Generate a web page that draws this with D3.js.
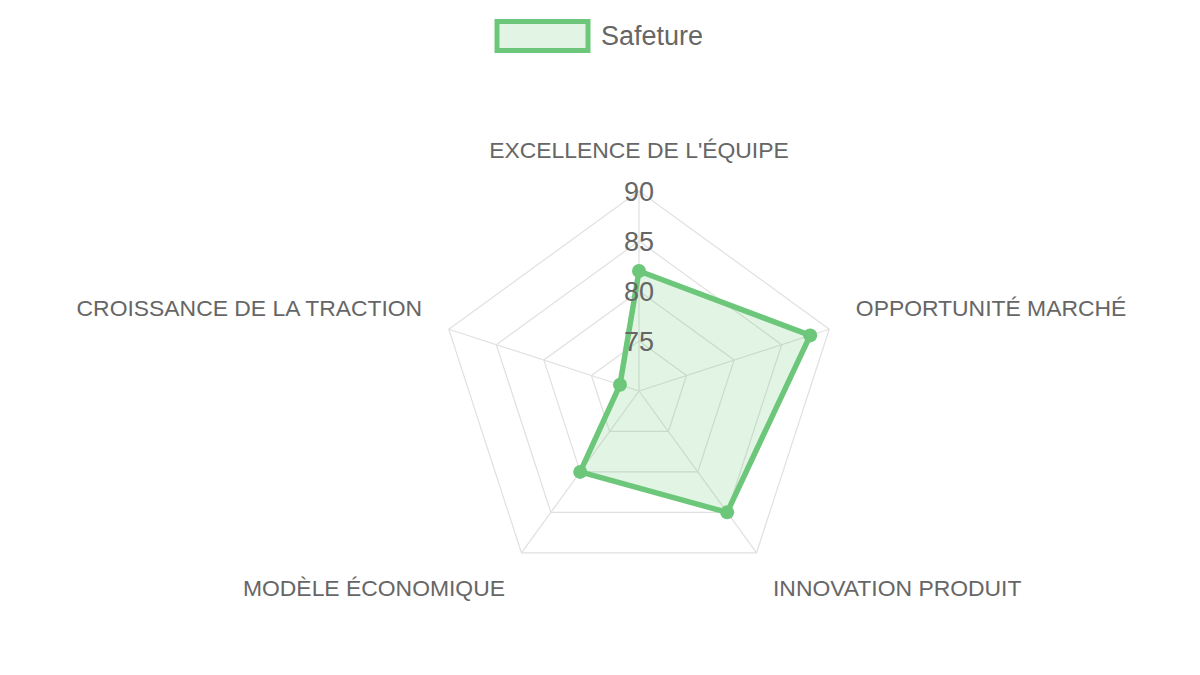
<!DOCTYPE html>
<meta charset="utf-8">
<head>
	<title>Safeture radar</title>
	<script type="text/javascript" src="https://cdn.jsdelivr.net/npm/d3@7/dist/d3.min.js"></script>
	<style>
		body { margin: 0; background: #fff; }
		svg text { font-family: "Liberation Sans", Arial, Helvetica, sans-serif; fill: #666; }
	</style>
</head>

<body>
	<div id="chart"></div>

<script>
	// values
	var axes = ["EXCELLENCE DE L'ÉQUIPE", "OPPORTUNITÉ MARCHÉ", "INNOVATION PRODUIT", "MODÈLE ÉCONOMIQUE", "CROISSANCE DE LA TRACTION"];
	var seriesName = "Safeture";
	var values = [82, 88, 85, 80, 72];
	var ticks = [75, 80, 85, 90];
	var scaleMin = 70, scaleMax = 90;

	var width = 1200, height = 675;
	var cx = 639, cy = 391, R = 200;
	var green = "rgb(108,199,122)";

	var svg = d3.select("#chart").append("svg")
		.attr("width", width)
		.attr("height", height);

	var r = d3.scaleLinear().domain([scaleMin, scaleMax]).range([0, R]);
	var angle = d3.scaleLinear().domain([0, axes.length]).range([0, 2 * Math.PI]);

	function pt(i, rad) {
		var a = angle(i);
		return [cx + rad * Math.sin(a), cy - rad * Math.cos(a)];
	}

	var g = svg.append("g");

	// rings
	g.selectAll(".ring").data(ticks).enter().append("polygon")
		.attr("class", "ring")
		.attr("points", function(t) { return axes.map(function(a, i) { return pt(i, r(t)).join(","); }).join(" "); })
		.attr("fill", "none")
		.attr("stroke", "#e0e0e0")
		.attr("stroke-width", 1.2);

	// spokes
	g.selectAll(".spoke").data(axes).enter().append("line")
		.attr("class", "spoke")
		.attr("x1", cx).attr("y1", cy)
		.attr("x2", function(d, i) { return pt(i, R)[0]; })
		.attr("y2", function(d, i) { return pt(i, R)[1]; })
		.attr("stroke", "#e0e0e0")
		.attr("stroke-width", 1.2);

	// axis labels
	var labelH = 26;
	g.selectAll(".plabel").data(axes).enter().append("text")
		.attr("class", "plabel")
		.attr("x", function(d, i) { return pt(i, R + 28)[0]; })
		.attr("y", function(d, i) {
			var c = Math.cos(angle(i));
			return pt(i, R + 28)[1] + (c > 0 ? -labelH / 2 : labelH / 2);
		})
		.attr("dy", "0.35em")
		.attr("text-anchor", function(d, i) {
			var s = Math.sin(angle(i));
			return Math.abs(s) < 0.01 ? "middle" : (s > 0 ? "start" : "end");
		})
		.style("font-size", "22.9px")
		.text(function(d) { return d; });

	// data area
	var line = d3.lineRadial()
		.angle(function(d, i) { return angle(i); })
		.radius(function(d) { return r(d); })
		.curve(d3.curveLinearClosed);

	g.append("path")
		.datum(values)
		.attr("transform", "translate(" + cx + "," + cy + ")")
		.attr("d", line)
		.attr("fill", "rgba(108,199,122,0.2)")
		.attr("stroke", green)
		.attr("stroke-width", 5.5)
		.attr("stroke-linejoin", "round");

	g.selectAll(".dot").data(values).enter().append("circle")
		.attr("class", "dot")
		.attr("cx", function(d, i) { return pt(i, r(d))[0]; })
		.attr("cy", function(d, i) { return pt(i, r(d))[1]; })
		.attr("r", 7)
		.attr("fill", green);

	// tick labels
	g.selectAll(".tick").data(ticks).enter().append("text")
		.attr("class", "tick")
		.attr("x", cx)
		.attr("y", function(t) { return cy - r(t) + 1; })
		.attr("dy", "0.35em")
		.attr("text-anchor", "middle")
		.style("font-size", "27px")
		.text(function(t) { return t; });

	// legend
	var legend = svg.append("g");
	legend.append("rect")
		.attr("x", 497).attr("y", 21.5)
		.attr("width", 91).attr("height", 29)
		.attr("fill", "rgba(108,199,122,0.2)")
		.attr("stroke", green)
		.attr("stroke-width", 5);
	legend.append("text")
		.attr("x", 601).attr("y", 36)
		.attr("dy", "0.35em")
		.style("font-size", "27px")
		.text(seriesName);
</script>
</body>
